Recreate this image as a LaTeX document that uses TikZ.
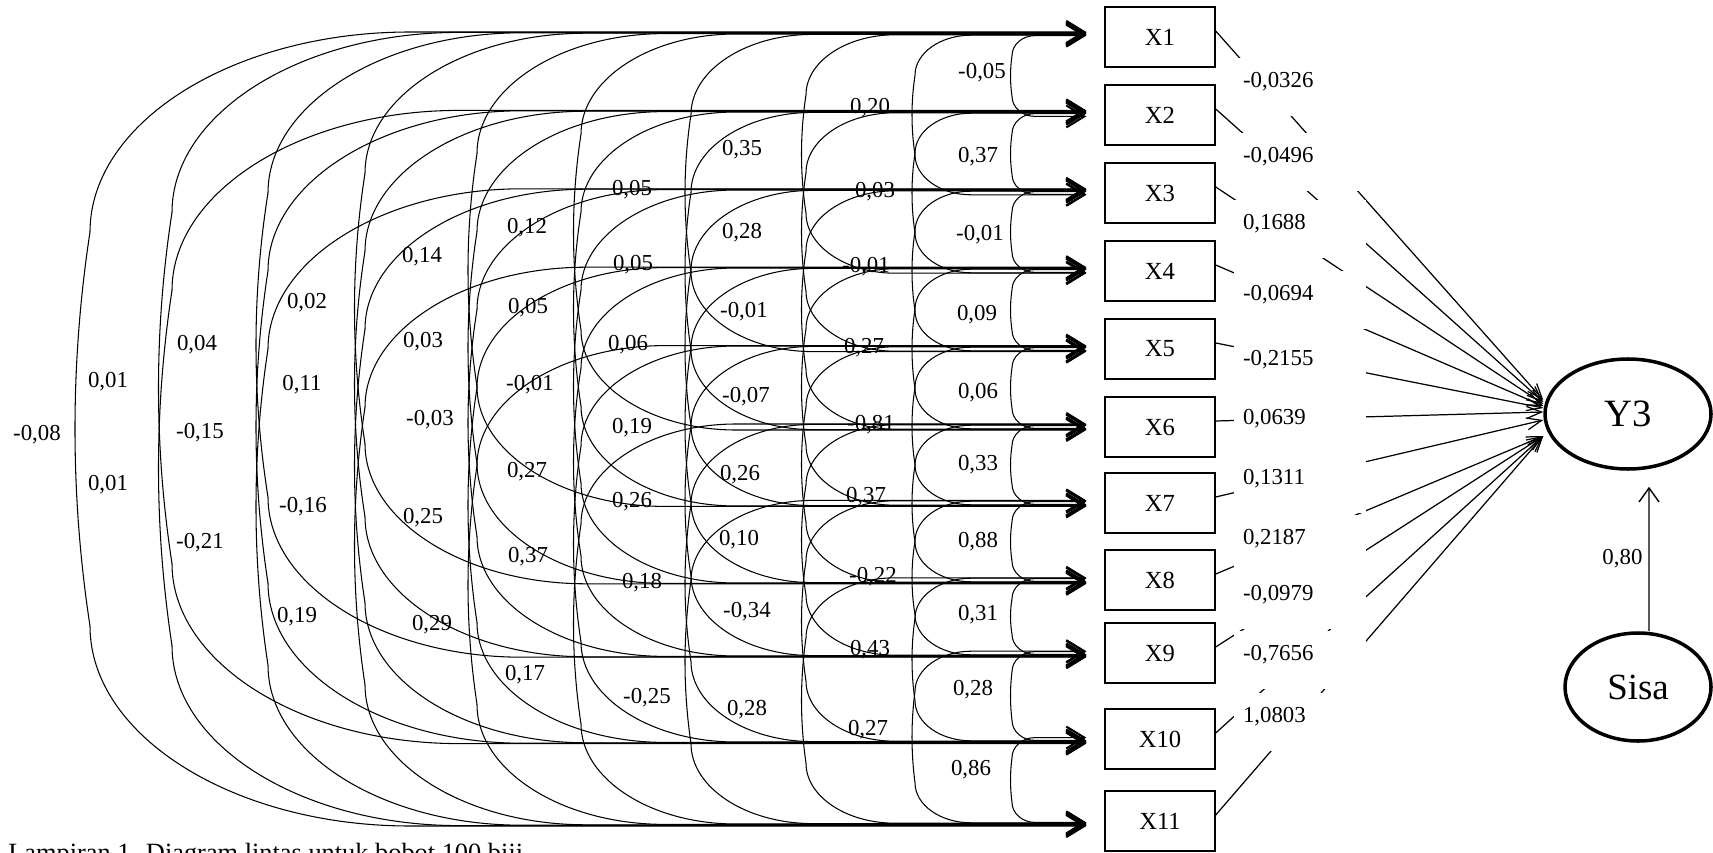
\documentclass[tikz,border=0pt]{standalone}
\usepackage{fontspec}
\setmainfont{Liberation Serif}
\usetikzlibrary{arrows.meta, shapes.geometric, calc}

\newcommand{\px}{0.2mm}

\begin{document}
\begin{tikzpicture}[
    x=0.2mm, y=-0.2mm,
    kotak/.style={rectangle, draw=black, line width=0.8pt, minimum width=22mm, minimum height=12mm, font=\fontsize{14}{16}\selectfont},
    laten/.style={ellipse, draw=black, line width=2pt},
    koef/.style={rectangle, fill=white, minimum width=26.4mm, minimum height=11.6mm, text width=22.8mm, inner xsep=1.8mm, align=left, text height=3.1mm, text depth=2.8mm, font=\fontsize{13}{15}\selectfont},
    kor/.style={font=\fontsize{13}{15}\selectfont, inner sep=1pt},
    korelasi/.style={line width=0.6pt, >={Straight Barb[length=3.6mm,width=4.4mm,line width=1.2pt]}, <->},
    jalur/.style={line width=0.7pt, -{Straight Barb[length=3mm,width=2.4mm]}},
    galat/.style={line width=0.8pt, -{Straight Barb[length=2.8mm,width=4mm]}}
]
\useasboundingbox (0,0) rectangle (1713,853);
\clip (0,0) rectangle (1713,853);

% peubah X
\foreach \n/\y in {1/37, 2/115, 3/193, 4/271, 5/349, 6/427, 7/503, 8/580, 9/653, 10/739, 11/821}
  \node[kotak] (X\n) at (1160,\y) {X\n};

\node[laten, minimum width=33.2mm, minimum height=22mm, font=\fontsize{22}{24}\selectfont] (Y3) at (1628,414) {Y3};
\node[laten, minimum width=29.2mm, minimum height=21.6mm, font=\fontsize{21}{23}\selectfont] (Sisa) at (1638,687) {Sisa};

% korelasi antar peubah X
\foreach \i/\j/\val/\lx/\ly in {
    1/2/{-0,05}/982/73, 2/3/{0,37}/978/157, 3/4/{-0,01}/980/235, 4/5/{0,09}/977/315, 5/6/{0,06}/978/393,
    6/7/{0,33}/978/465, 7/8/{0,88}/978/542, 8/9/{0,31}/978/615, 9/10/{0,28}/973/690, 10/11/{0,86}/971/770,
    1/3/{0,20}/870/108, 2/4/{0,03}/875/192, 3/5/{-0,01}/866/267, 4/6/{0,27}/864/348, 5/7/{-0,81}/871/425,
    6/8/{0,37}/866/497, 7/9/{-0,22}/873/577, 8/10/{0,43}/870/650, 9/11/{0,27}/868/730,
    1/4/{0,35}/742/150, 2/5/{0,28}/742/233, 3/6/{-0,01}/744/312, 4/7/{-0,07}/746/397,
    5/8/{0,26}/740/475, 6/9/{0,10}/739/540, 7/10/{-0,34}/747/612, 8/11/{0,28}/747/710,
    1/5/{0,05}/632/190, 2/6/{0,05}/633/265, 3/7/{0,06}/628/345, 4/8/{0,19}/632/428,
    5/9/{0,26}/632/502, 6/10/{0,18}/642/583, 7/11/{-0,25}/647/698,
    1/6/{0,12}/527/228, 2/7/{0,05}/528/308, 3/8/{-0,01}/530/385, 4/9/{0,27}/527/472,
    5/10/{0,37}/528/557, 6/11/{0,17}/525/675,
    1/7/{0,14}/422/257, 2/8/{0,03}/423/342, 3/9/{-0,03}/430/420, 4/10/{0,25}/423/518, 5/11/{0,29}/432/625,
    1/8/{0,02}/307/303, 2/9/{0,11}/302/385, 3/10/{-0,16}/303/507, 4/11/{0,19}/297/617,
    1/9/{0,04}/197/345, 2/10/{-0,15}/200/433, 3/11/{-0,21}/200/543,
    1/10/{0,01}/108/382, 2/11/{0,01}/108/485,
    1/11/{-0,08}/37/435}{
  \pgfmathtruncatemacro\dd{\j-\i}
  \pgfmathsetmacro\xc{{1012,915,806,691,581,477,365,268,172,90}[\dd-1]}
  \pgfmathsetmacro\xh{\xc+33*\dd-10}
  \pgfmathsetmacro\ry{20*\dd}
  \pgfmathsetmacro\off{1+0.4*\dd}
  \pgfmathsetmacro\bw{2*\dd}
  \draw[korelasi] let \p1=(X\i.west), \p2=(X\j.west),
      \n1={\y1+\off*\px}, \n2={\y2-\off*\px},
      \n3={\n1-\ry*\px}, \n4={\n2+\ry*\px} in
    ({\x1-18*\px},\n1) -- ({\xh*\px},\n1)
    .. controls ({(\xh-0.55*(\xh-\xc))*\px},\n1) and ({\xc*\px},{\n1-0.45*\ry*\px}) .. ({\xc*\px},\n3)
    .. controls ({(\xc-\bw)*\px},{(2*\n3+\n4)/3}) and ({(\xc-\bw)*\px},{(\n3+2*\n4)/3}) .. ({\xc*\px},\n4)
    .. controls ({\xc*\px},{\n2+0.45*\ry*\px}) and ({(\xh-0.55*(\xh-\xc))*\px},\n2) .. ({\xh*\px},\n2)
    -- ({\x2-18*\px},\n2);
  \node[kor] (r\i-\j) at (\lx,\ly) {\val};
}

% pengaruh langsung ke Y3
\foreach \n/\s in {1/2.8, 2/2.4, 3/2.0, 4/1.6, 5/1.2, 6/0.4, 7/-1.2, 8/-4.4, 9/-4.4, 10/-4.4, 11/-4.4}
  \draw[jalur] ([yshift=1.2mm]X\n.east) -- ([yshift=\s mm]Y3.west);

\foreach \n/\val/\y in {1/{-0,0326}/80, 2/{-0,0496}/155, 3/{0,1688}/222, 4/{-0,0694}/293,
    5/{-0,2155}/358, 6/{0,0639}/417, 7/{0,1311}/477, 8/{0,2187}/537, 9/{-0,0979}/593,
    10/{-0,7656}/653, 11/{1,0803}/715}
  \node[koef] (p\n) at (1300,\y+7) {\val};

\draw[galat] ([xshift=2.2mm]Sisa.north) -- node[left, font=\fontsize{13}{15}\selectfont] {0,80} ([xshift=4.2mm, yshift=-3.2mm]Y3.south);

\node[anchor=base west, inner sep=0pt, font=\fontsize{15}{17}\selectfont] (judul) at (8,861) {Lampiran 1. Diagram lintas untuk bobot 100 biji};

\end{tikzpicture}
\end{document}
